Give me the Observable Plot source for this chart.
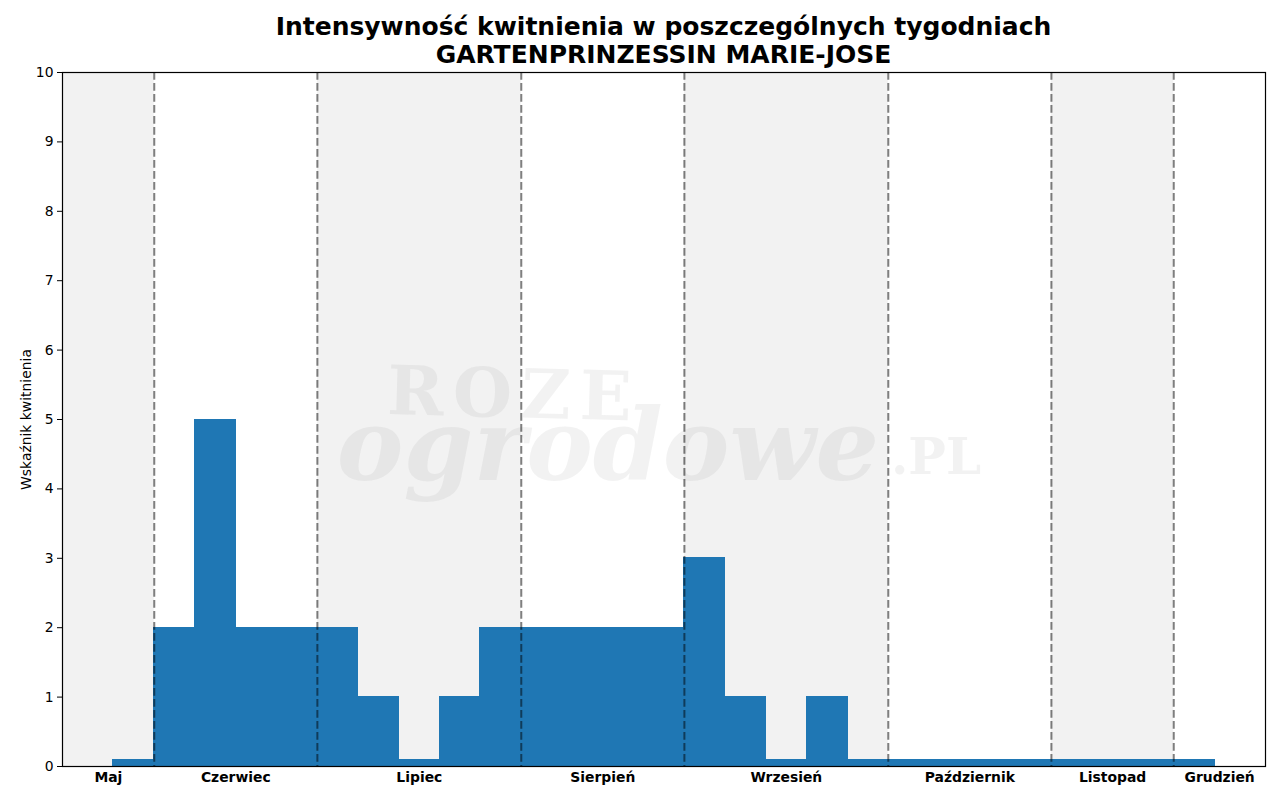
<!DOCTYPE html>
<html><head><meta charset="utf-8">
<script src="https://cdn.jsdelivr.net/npm/d3@7"></script>
<script src="https://cdn.jsdelivr.net/npm/@observablehq/plot@0.6"></script>
<style>
body{margin:0;background:#fff;font-family:"DejaVu Sans",sans-serif;}
#title{height:64px;text-align:center;font-weight:bold;font-size:25px;line-height:28px;padding-top:13px;padding-left:47px;box-sizing:border-box;color:#000;width:1280px;}
#chart svg{display:block;}
</style></head><body>
<div id="title">Intensywność kwitnienia w poszczególnych tygodniach<br>GARTENPRINZESSIN MARIE-JOSE</div>
<div id="chart"></div>
<script>
// weekly bloom index (27 weeks, May → December)
const weekValues = [0.1, 2, 5, 2, 2, 2, 1, 0.1, 1, 2, 2, 2, 2, 2, 3, 1, 0.1, 1, 0.1, 0.1, 0.1, 0.1, 0.1, 0.1, 0.1, 0.1, 0.1];
const months = ["Maj", "Czerwiec", "Lipiec", "Sierpień", "Wrzesień", "Październik", "Listopad", "Grudzień"];
const monthStart = [-1.25, 1, 5, 10, 14, 19, 23, 26];
const monthEnd = [1, 5, 10, 14, 19, 23, 26, 28.25];
const monthShaded = [true, false, true, false, true, false, true, false];
const boundaries = [1, 5, 10, 14, 19, 23, 26];
const yTicks = [0, 1, 2, 3, 4, 5, 6, 7, 8, 9, 10];

const weeks = weekValues.map((v, i) => ({x1: i, x2: i + 1, v}));
const monthData = months.map((m, i) => ({name: m, x1: monthStart[i], x2: monthEnd[i], shaded: monthShaded[i]}));

const wm = {frameAnchor: "middle", fontFamily: "DejaVu Serif", fontWeight: "bold", fill: "#999", fillOpacity: 0.13, text: d => d};

const chart = Plot.plot({
  width: 1280,
  height: 736,
  marginTop: 8,
  marginBottom: 34,
  marginLeft: 62,
  marginRight: 15,
  style: {fontFamily: "DejaVu Sans", fontSize: "13.9px", background: "#fff", color: "#000"},
  x: {domain: [-1.25, 28.25], axis: null},
  y: {domain: [0, 10], ticks: yTicks, label: null},
  marks: [
    Plot.rect(monthData.filter(d => d.shaded), {x1: "x1", x2: "x2", y1: 0, y2: 10, fill: "#f2f2f2"}),
    Plot.text(["ROZE"], {...wm, dx: -150, dy: -24, rotate: 1.5, fontSize: 68, className: "wm-roze"}),
    Plot.text(["ogrodowe"], {...wm, dx: -56, dy: 28, fontSize: 100, fontStyle: "italic"}),
    Plot.text([".PL"], {...wm, dx: 272, dy: 38, fontSize: 50}),
    Plot.rectY(weeks, {x1: "x1", x2: "x2", y: "v", fill: "#1f77b4", stroke: "#1f77b4", strokeWidth: 1, shapeRendering: "crispEdges"}),
    Plot.ruleX(boundaries, {stroke: "#000", strokeOpacity: 0.5, strokeWidth: 2, strokeDasharray: "7.7,3.3"}),
    Plot.axisY({ticks: yTicks, tickSize: 5, tickPadding: 4, label: "Wskaźnik kwitnienia", labelAnchor: "center", labelArrow: "none", labelOffset: 41, fontSize: 13.9}),
    Plot.text(monthData, {x: d => (d.x1 + d.x2) / 2, y: 0, text: "name", dy: 11, lineAnchor: "middle", fontWeight: "bold", fontSize: 13.9, fill: "#000"}),
    Plot.frame({stroke: "#000", strokeWidth: 1.2})
  ]
});
d3.select(chart).selectAll(".wm-roze text").style("letter-spacing", "9px");
document.getElementById("chart").appendChild(chart);
</script>
</body></html>
